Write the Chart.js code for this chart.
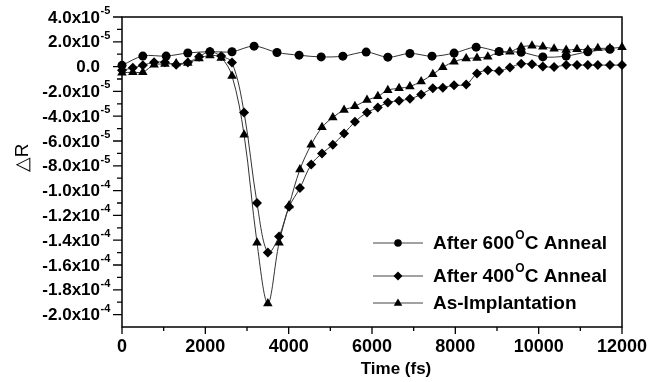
<!DOCTYPE html>
<html>
<head>
<meta charset="utf-8">
<script src="https://cdn.jsdelivr.net/npm/chart.js@4/dist/chart.umd.min.js"></script>
<style>
  body { margin: 0; background: #fff; }
  #wrap { width: 660px; height: 382px; }
</style>
</head>
<body>
<div id="wrap"><canvas id="deltaChart" width="660" height="382"></canvas></div>
<script>
// values are in units of 1e-5 (delta R)
const timeFine = [0, 260, 500, 770, 1030, 1300, 1580, 1850, 2110, 2380, 2640, 2930, 3240, 3500, 3770,
    4010, 4270, 4540, 4800, 5060, 5330, 5590, 5880, 6140, 6380, 6650, 6910, 7180, 7460, 7700,
    7970, 8260, 8520, 8780, 9050, 9310, 9580, 9840, 10100, 10370, 10660, 10920, 11180, 11420, 11710, 12000];

const timeCoarse = [0, 500, 1060, 1580, 2110, 2640, 3170, 3720, 4250, 4780, 5300, 5860, 6380, 6910,
    7440, 7970, 8500, 9050, 9580, 10100, 10660, 11180, 11710];

const anneal600 = [0.1, 0.85, 0.85, 1.1, 1.2, 1.2, 1.65, 1.14, 0.92, 0.78, 0.84, 1.17, 0.76, 1.06,
    0.84, 1.09, 1.57, 1.22, 1.15, 0.78, 0.85, 1.2, 1.4];

const anneal400 = [-0.3, -0.1, 0.1, 0.35, 0.35, 0.15, 0.33, 0.8, 1.2, 0.85, 0.33,
    -3.7, -11.0, -15.0, -13.7, -11.3, -9.8, -7.9, -7.0, -6.3, -5.4, -4.45, -3.7, -3.3, -2.9,
    -2.75, -2.6, -2.25, -1.75, -1.7, -1.5, -1.45, -0.55, -0.3, -0.35, -0.07, 0.22, 0.19, 0.0,
    -0.03, 0.13, 0.13, 0.12, 0.12, 0.12, 0.12];

const asImplant = [-0.5, -0.45, -0.45, 0.15, 0.2, 0.25, 0.3, 0.65, 0.9, 0.7, -0.75,
    -5.5, -14.2, -19.1, -14.2, -11.2, -8.3, -6.3, -4.9, -4.1, -3.5, -3.2, -2.7, -2.4, -1.9,
    -1.75, -1.6, -1.2, -0.62, -0.06, 0.4, 0.65, 0.7, 0.8, 1.15, 1.2, 1.58, 1.68, 1.6,
    1.43, 1.33, 1.4, 1.36, 1.47, 1.47, 1.56];

const xTickValues = [0, 2000, 4000, 6000, 8000, 10000, 12000];
const xMinorValues = [1000, 3000, 5000, 7000, 9000, 11000];

const yTickValues = [4, 2, 0, -2, -4, -6, -8, -10, -12, -14, -16, -18, -20];
const yTickText = ['4.0x10', '2.0x10', '0.0', '-2.0x10', '-4.0x10', '-6.0x10', '-8.0x10',
    '-1.0x10', '-1.2x10', '-1.4x10', '-1.6x10', '-1.8x10', '-2.0x10'];
const yTickExp = ['-5', '-5', '', '-5', '-5', '-5', '-5', '-4', '-4', '-4', '-4', '-4', '-4'];
const yMinorValues = [3, 1, -1, -3, -5, -7, -9, -11, -13, -15, -17, -19];

const legendNames = [['After 600', 'O', 'C Anneal'], ['After 400', 'O', 'C Anneal'], ['As-Implantation', '', '']];
const legendStyles = ['circle', 'diamond', 'triangle'];

const FONT = '"Liberation Sans", Arial, sans-serif';

function toPoints(xs, ys) {
    return xs.map((x, i) => ({ x: x, y: ys[i] }));
}

function drawMarker(ctx, style, x, y, r) {
    ctx.beginPath();
    if (style === 'circle') {
        ctx.arc(x, y, r, 0, Math.PI * 2);
    } else if (style === 'diamond') {
        ctx.moveTo(x, y - r); ctx.lineTo(x + r, y); ctx.lineTo(x, y + r); ctx.lineTo(x - r, y);
        ctx.closePath();
    } else {
        ctx.moveTo(x, y - r); ctx.lineTo(x + r * 0.95, y + r * 0.6); ctx.lineTo(x - r * 0.95, y + r * 0.6);
        ctx.closePath();
    }
    ctx.fill();
}

const frame = {
    id: 'frame',
    beforeDraw(chart) {
        const ctx = chart.ctx;
        ctx.save();
        ctx.fillStyle = '#fff';
        ctx.fillRect(0, 0, chart.width, chart.height);
        ctx.restore();
    },
    afterDraw(chart) {
        const ctx = chart.ctx;
        const a = chart.chartArea;
        const xs = chart.scales.x;
        const ys = chart.scales.y;
        ctx.save();
        ctx.strokeStyle = '#000';
        ctx.fillStyle = '#000';
        ctx.lineWidth = 1.5;
        ctx.strokeRect(a.left, a.top, a.right - a.left, a.bottom - a.top);

        // y ticks
        ctx.lineWidth = 1.3;
        ctx.beginPath();
        yTickValues.forEach(v => {
            const py = ys.getPixelForValue(v);
            ctx.moveTo(a.left - 9, py); ctx.lineTo(a.left, py);
        });
        yMinorValues.forEach(v => {
            const py = ys.getPixelForValue(v);
            ctx.moveTo(a.left - 5, py); ctx.lineTo(a.left, py);
        });
        // x ticks
        xTickValues.forEach(v => {
            const px = xs.getPixelForValue(v);
            ctx.moveTo(px, a.bottom); ctx.lineTo(px, a.bottom + 7);
        });
        xMinorValues.forEach(v => {
            const px = xs.getPixelForValue(v);
            ctx.moveTo(px, a.bottom); ctx.lineTo(px, a.bottom + 4);
        });
        ctx.stroke();

        // y labels
        const labelRight = a.left - 22;
        yTickValues.forEach((v, i) => {
            const py = ys.getPixelForValue(v);
            ctx.font = 'bold 17px ' + FONT;
            ctx.textAlign = 'right';
            ctx.textBaseline = 'middle';
            ctx.fillText(yTickText[i], labelRight, py + 1);
            if (yTickExp[i]) {
                ctx.font = 'bold 11px ' + FONT;
                ctx.textAlign = 'left';
                ctx.fillText(yTickExp[i], labelRight + 0.5, py - 6);
            }
        });

        // x labels
        ctx.font = 'bold 18px ' + FONT;
        ctx.textAlign = 'center';
        ctx.textBaseline = 'middle';
        xTickValues.forEach(v => {
            ctx.fillText(String(v), xs.getPixelForValue(v), a.bottom + 20);
        });

        // axis titles
        ctx.font = 'bold 17px ' + FONT;
        ctx.fillText('Time (fs)', a.left + 274, a.bottom + 42);
        ctx.save();
        ctx.translate(23, 158);
        ctx.rotate(-Math.PI / 2);
        ctx.font = '19px ' + FONT;
        ctx.fillText('\u25B3R', 0, 0);
        ctx.restore();

        // legend
        const rows = [243, 276, 303];
        rows.forEach((ry, i) => {
            ctx.strokeStyle = '#444';
            ctx.lineWidth = 1;
            ctx.beginPath();
            ctx.moveTo(373, ry); ctx.lineTo(423, ry);
            ctx.stroke();
            ctx.fillStyle = '#000';
            drawMarker(ctx, legendStyles[i], 398, ry, legendStyles[i] === 'circle' ? 3.8 : 4.5);

            const parts = legendNames[i];
            let tx = 433;
            ctx.textAlign = 'left';
            ctx.textBaseline = 'middle';
            ctx.font = 'bold 19px ' + FONT;
            ctx.fillText(parts[0], tx, ry + 1);
            tx += ctx.measureText(parts[0]).width + 1;
            if (parts[1]) {
                ctx.font = 'bold 12px ' + FONT;
                ctx.fillText(parts[1], tx, ry - 7);
                tx += ctx.measureText(parts[1]).width;
                ctx.font = 'bold 19px ' + FONT;
                ctx.fillText(parts[2], tx, ry + 1);
            }
        });
        ctx.restore();
    }
};

const baseSet = {
    borderColor: '#333',
    borderWidth: 1,
    pointBackgroundColor: '#000',
    pointBorderColor: '#000',
    pointBorderWidth: 0,
    tension: 0.35,
    clip: false,
    fill: false
};

new Chart(document.getElementById('deltaChart').getContext('2d'), {
    type: 'line',
    data: {
        datasets: [
            Object.assign({}, baseSet, {
                label: 'After 600\u00B0C Anneal',
                data: toPoints(timeCoarse, anneal600),
                pointStyle: 'circle',
                pointRadius: 4.5
            }),
            Object.assign({}, baseSet, {
                label: 'After 400\u00B0C Anneal',
                data: toPoints(timeFine, anneal400),
                pointStyle: 'rectRot',
                pointRadius: 5
            }),
            Object.assign({}, baseSet, {
                label: 'As-Implantation',
                data: toPoints(timeFine, asImplant),
                pointStyle: 'triangle',
                pointRadius: 5.5
            })
        ]
    },
    options: {
        responsive: false,
        animation: false,
        devicePixelRatio: 1,
        layout: { padding: { left: 122, right: 38, top: 17, bottom: 55 } },
        plugins: {
            legend: { display: false },
            tooltip: { enabled: false }
        },
        scales: {
            x: { type: 'linear', min: 0, max: 12000, display: false },
            y: { type: 'linear', min: -21, max: 4, display: false }
        }
    },
    plugins: [frame]
});
</script>
</body>
</html>
